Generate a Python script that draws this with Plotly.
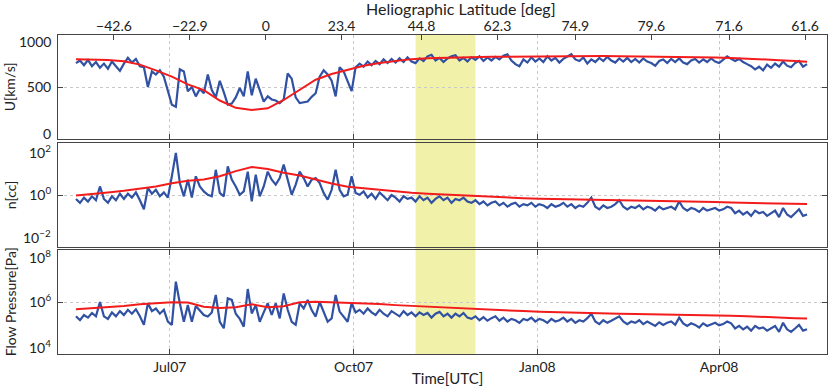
import numpy as np
import pandas as pd
import plotly.graph_objects as go

# Ulysses-type solar wind series, one sample every 2 days (blue) and a model every 8 days (red)
obs_dates = pd.date_range("2007-05-15", periods=184, freq="2D")
model_dates = list(pd.date_range("2007-05-15", periods=46, freq="8D")) + [pd.Timestamp("2008-05-15")]

speed_obs = [
    730, 755, 710, 760, 700, 740, 685, 725, 675, 745,
    700, 655, 725, 780, 735, 770, 700, 690, 500, 650,
    620, 660, 600, 470, 330, 310, 670, 650, 460, 500,
    410, 480, 440, 620, 470, 400, 560, 450, 330, 340,
    400, 490, 410, 650, 420, 580, 470, 360, 410, 380,
    370, 345, 380, 630, 580, 400, 345, 350, 360, 405,
    440, 600, 660, 620, 560, 410, 690, 650, 560, 460,
    690, 725, 695, 745, 710, 750, 720, 765, 730, 770,
    735, 775, 740, 785, 745, 730, 775, 750, 795, 810,
    755, 780, 740, 775, 795, 805, 755, 780, 745, 785,
    760, 795, 750, 785, 755, 790, 765, 800, 815, 755,
    720, 700, 765, 735, 785, 745, 775, 740, 795, 755,
    780, 735, 770, 795, 815, 765, 750, 785, 725, 765,
    740, 780, 750, 790, 755, 735, 775, 745, 780, 740,
    770, 735, 775, 745, 730, 705, 750, 765, 730, 770,
    740, 775, 735, 720, 755, 770, 735, 765, 740, 775,
    745, 730, 765, 795, 770, 750, 770, 740, 720, 700,
    670, 695, 660, 715, 685, 725, 695, 745, 705, 690,
    730, 750, 695, 720,
]

# log10 of density [cc]
density_obs_log = [
    -0.15, -0.3, -0.1, -0.25, -0.05, -0.2, 0.33, -0.15, -0.3, -0.05,
    -0.2, 0.05, -0.15, 0.05, -0.1, 0.1, -0.2, -0.55, 0.27, 0.05,
    0.2, -0.05, 0.1, -0.1, 0.72, 1.62, 0.46, -0.05, 0.59, -0.1,
    0.72, 0.33, 0.14, 0.01, -0.05, 0.97, 0.08, -0.05, 1.1, 0.59,
    0.33, 0.01, 0.14, 0.9, -0.24, 0.78, -0.05, 0.33, 0.9, 0.59,
    0.4, 0.65, 1.17, 0.59, 0.01, 0.4, 0.9, 0.65, 0.33, 0.59,
    0.65, 0.46, 0.08, -0.18, 0.2, 0.97, 0.2, -0.05, 0.01, 0.72,
    0.08, 0.01, 0.14, -0.1, 0.05, -0.15, 0.1, -0.05, -0.2, 0.0,
    -0.1, -0.25, -0.05, -0.15, -0.1, -0.25, -0.05, -0.2, -0.1, -0.3,
    -0.15, -0.05, -0.2, -0.1, -0.3, -0.15, -0.2, -0.1, -0.25, -0.3,
    -0.2, -0.35, -0.25, -0.4, -0.3, -0.25, -0.4, -0.3, -0.45, -0.35,
    -0.3, -0.45, -0.35, -0.4, -0.3, -0.45, -0.35, -0.4, -0.5, -0.35,
    -0.45, -0.4, -0.3, -0.45, -0.35, -0.5, -0.4, -0.45, -0.3, -0.1,
    -0.45, -0.55, -0.4, -0.5, -0.45, -0.35, -0.2, -0.45, -0.55, -0.45,
    -0.5, -0.4, -0.55, -0.45, -0.5, -0.6, -0.45, -0.55, -0.5, -0.45,
    -0.55, -0.25, -0.5, -0.6, -0.5, -0.55, -0.65, -0.5, -0.6, -0.55,
    -0.5, -0.6, -0.55, -0.45, -0.5, -0.7, -0.6, -0.75, -0.65, -0.8,
    -0.6, -0.7, -0.65, -0.8, -0.7, -0.6, -0.85, -0.5, -0.75, -0.85,
    -0.7, -0.55, -0.8, -0.75,
]

# log10 of flow pressure [Pa]
pressure_obs_log = [
    5.45, 5.3, 5.5, 5.4, 5.58, 5.45, 6.0, 5.45, 5.35, 5.6,
    5.45, 5.65, 5.5, 5.7, 5.55, 5.72, 5.45, 5.12, 5.95, 5.65,
    5.75, 5.55, 5.7, 5.25, 5.12, 6.78, 5.95, 5.24, 5.88, 5.24,
    5.85, 5.69, 5.5, 5.44, 5.6, 6.27, 5.24, 4.99, 6.14, 6.08,
    5.55, 5.35, 5.05, 6.5, 5.56, 5.88, 5.24, 5.6, 5.95, 5.5,
    5.95, 5.37, 6.33, 5.7, 5.24, 5.12, 5.95, 5.75, 6.08, 5.69,
    5.44, 6.0, 5.63, 5.24, 5.37, 6.27, 5.63, 5.44, 5.24, 5.95,
    5.6, 5.7, 5.55, 5.75, 5.6, 5.5, 5.7, 5.55, 5.45, 5.65,
    5.55, 5.45, 5.65, 5.5, 5.6, 5.45, 5.6, 5.5, 5.58, 5.4,
    5.55, 5.62, 5.45, 5.55, 5.4, 5.55, 5.45, 5.58, 5.4, 5.35,
    5.45, 5.3, 5.42, 5.28, 5.38, 5.45, 5.28, 5.4, 5.25, 5.35,
    5.3, 5.2, 5.35, 5.3, 5.4, 5.25, 5.35, 5.3, 5.2, 5.35,
    5.25, 5.3, 5.4, 5.25, 5.35, 5.2, 5.3, 5.25, 5.38, 5.55,
    5.25, 5.15, 5.3, 5.2, 5.28, 5.35, 5.45, 5.25, 5.15, 5.25,
    5.2, 5.3, 5.15, 5.25, 5.18, 5.08, 5.22, 5.12, 5.2, 5.25,
    5.12, 5.4, 5.18, 5.08, 5.18, 5.12, 5.02, 5.18, 5.08, 5.15,
    5.2, 5.1, 5.15, 5.25, 5.18, 4.98, 5.08, 4.95, 5.05, 4.9,
    5.08, 4.98, 5.02, 4.9, 4.98, 5.08, 4.85, 5.2, 4.95, 4.85,
    4.98, 5.12, 4.9, 4.95,
]

speed_model = [
    766, 765, 760, 748, 715, 660, 600, 525, 470, 370, 300, 279, 295, 375, 475, 570,
    625, 668, 705, 730, 750, 768, 777, 782, 785, 788, 790, 792, 794, 795, 797, 798,
    798, 797, 796, 795, 793, 790, 788, 786, 783, 780, 775, 767, 758, 750, 743,
]
density_model_log = [
    -0.02, 0.03, 0.1, 0.16, 0.24, 0.33, 0.45, 0.55, 0.6, 0.72, 0.92, 1.08, 1.0, 0.86, 0.75, 0.6,
    0.44, 0.32, 0.26, 0.2, 0.14, 0.09, 0.05, 0.02, -0.02, -0.05, -0.08, -0.1, -0.12, -0.14, -0.15, -0.17,
    -0.18, -0.19, -0.2, -0.21, -0.22, -0.23, -0.24, -0.26, -0.27, -0.29, -0.3, -0.32, -0.33, -0.34, -0.35,
]
pressure_model_log = [
    5.72, 5.76, 5.8, 5.85, 5.91, 5.96, 5.99, 5.98, 5.82, 5.77, 5.8, 5.91, 5.8, 5.84, 5.99, 6.01,
    5.99, 5.95, 5.93, 5.92, 5.88, 5.85, 5.81, 5.78, 5.75, 5.72, 5.69, 5.67, 5.65, 5.63, 5.61, 5.6,
    5.58, 5.57, 5.55, 5.54, 5.53, 5.52, 5.51, 5.5, 5.5, 5.47, 5.45, 5.42, 5.4, 5.38, 5.37,
]

date_ticks = ["2007-07-01", "2007-10-01", "2008-01-01", "2008-04-01"]
date_labels = ["Jul07", "Oct07", "Jan08", "Apr08"]
lat_tick_dates = ["2007-06-03", "2007-07-11", "2007-08-18", "2007-09-25", "2007-11-04",
                  "2007-12-12", "2008-01-20", "2008-02-27", "2008-04-06", "2008-05-14"]
lat_labels = ["−42.6", "−22.9", "0", "23.4", "44.8", "62.3", "74.9", "79.6", "71.6", "61.6"]
band = ["2007-11-01", "2007-12-01"]

BLUE = "#3151a3"
RED = "#f21c1c"
FONT = dict(family="Lato", size=14, color="#222")
x_range = ["2007-05-06", "2008-05-25"]

fig = go.Figure()
panels = [
    ("y", speed_obs, speed_model),
    ("y2", list(np.power(10.0, density_obs_log)), list(np.power(10.0, density_model_log))),
    ("y3", list(np.power(10.0, pressure_obs_log)), list(np.power(10.0, pressure_model_log))),
]
xnames = ["x", "x2", "x3"]
for (yname, obs, model), xname in zip(panels, xnames):
    fig.add_trace(go.Scatter(x=obs_dates, y=obs, mode="lines", line=dict(color=BLUE, width=2.2),
                             xaxis=xname, yaxis=yname, showlegend=False))
    fig.add_trace(go.Scatter(x=model_dates, y=model, mode="lines", line=dict(color=RED, width=2),
                             xaxis=xname, yaxis=yname, showlegend=False))

# invisible carrier so the latitude axis on top gets drawn
fig.add_trace(go.Scatter(x=lat_tick_dates, y=[500] * len(lat_tick_dates), mode="markers",
                         marker=dict(opacity=0), xaxis="x4", yaxis="y", showlegend=False, hoverinfo="skip"))

common_x = dict(
    range=x_range, type="date", tickvals=date_ticks, ticktext=date_labels,
    showgrid=True, gridcolor="#c8c8c8", griddash="dot", gridwidth=1,
    showline=True, linecolor="#444", linewidth=1, ticks="inside", ticklen=5,
    tickcolor="#444", zeroline=False, tickfont=FONT, automargin=False,
)
common_y = dict(
    showgrid=True, gridcolor="#c8c8c8", griddash="dot", gridwidth=1,
    showline=True, linecolor="#444", linewidth=1, ticks="inside", ticklen=5,
    tickcolor="#444", mirror="ticks", zeroline=False, tickfont=FONT, automargin=False,
    ticklabelstandoff=3,
)

dom1 = [0.674, 1.0]
dom2 = [0.3354, 0.6614]
dom3 = [0.0, 0.326]

fig.update_layout(
    width=830, height=387,
    margin=dict(l=58, r=3, t=35, b=33),
    paper_bgcolor="white", plot_bgcolor="rgba(0,0,0,0)",
    font=FONT,
    xaxis=dict(common_x, domain=[0, 1], anchor="y", showticklabels=False, mirror=True),
    xaxis2=dict(common_x, domain=[0, 1], anchor="y2", showticklabels=False, mirror="ticks"),
    xaxis3=dict(common_x, domain=[0, 1], anchor="y3", mirror="ticks"),
    xaxis4=dict(range=x_range, type="date", overlaying="x", anchor="y", side="top",
                tickvals=lat_tick_dates, ticktext=lat_labels, ticks="inside", ticklen=5,
                tickcolor="#444", showgrid=False, showline=False, zeroline=False, tickfont=FONT,
                automargin=False),
    yaxis=dict(common_y, domain=dom1, anchor="x", range=[0, 1000], tickvals=[500]),
    yaxis2=dict(common_y, domain=dom2, anchor="x2", type="log", range=[-2, 2],
                tickvals=[1], ticktext=["10<sup>0</sup>"]),
    yaxis3=dict(common_y, domain=dom3, anchor="x3", type="log", range=[4, 8],
                tickvals=[1e6], ticktext=["10<sup>6</sup>"]),
)

# highlighted interval across all three panels
fig.add_shape(type="rect", xref="x", yref="paper", x0=band[0], x1=band[1], y0=0, y1=1,
              fillcolor="#f1f1a9", line=dict(width=0), layer="below")

# labels at the panel edges sit slightly inside the box, as in the original export
edge_labels = [
    ("1000", 0.980), ("0", 0.692),
    ("10<sup>2</sup>", 0.636), ("10<sup>−2</sup>", 0.368),
    ("10<sup>8</sup>", 0.306), ("10<sup>4</sup>", 0.025),
]
for text, yp in edge_labels:
    fig.add_annotation(text=text, xref="paper", yref="paper", x=-0.007, y=yp, showarrow=False,
                       xanchor="right", yanchor="middle", font=FONT)

titles = [("U[km/s]", sum(dom1) / 2), ("n[cc]", sum(dom2) / 2), ("Flow Pressure[Pa]", sum(dom3) / 2)]
for text, yc in titles:
    fig.add_annotation(text=text, xref="paper", yref="paper", x=-0.062, y=yc, textangle=-90,
                       showarrow=False, xanchor="center", yanchor="middle", font=FONT)
fig.add_annotation(text="Heliographic Latitude [deg]", xref="paper", yref="paper", x=0.524, y=1.082,
                   showarrow=False, xanchor="center", yanchor="middle", font=dict(FONT, size=16))
fig.add_annotation(text="Time[UTC]", xref="paper", yref="paper", x=0.507, y=-0.075,
                   showarrow=False, xanchor="center", yanchor="middle", font=dict(FONT, size=15))

# drop the browser's default body margin so the 830x387 figure fills the window exactly
fig.write_html("out.html", config={"displayModeBar": False},
               post_script="document.body.style.margin = '0px';")
